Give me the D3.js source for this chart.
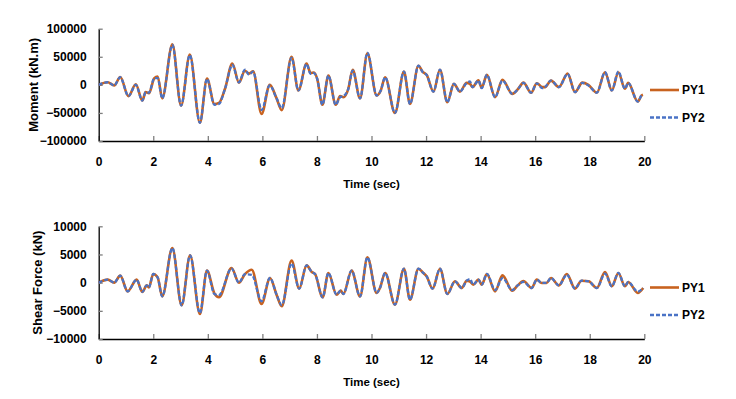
<!DOCTYPE html>
<html>
<head>
<meta charset="utf-8">
<script src="https://cdn.jsdelivr.net/npm/d3@7"></script>
<style>
  body { margin: 0; background: #fff; }
  svg { display: block; font-family: "Liberation Sans", Arial, sans-serif; font-weight: bold; }
</style>
</head>
<body>
<svg width="736" height="399"></svg>
<script>
// values, peaks and troughs of each trace

// moment chart
var momentTime = [0, 0.33, 0.57, 0.79, 1.09, 1.36, 1.60, 1.72, 1.84, 2.04,
  2.16, 2.33, 2.70, 3.02, 3.34, 3.71, 3.97, 4.24, 4.41, 4.63,
  4.90, 5.14, 5.36, 5.51, 5.66, 5.97, 6.27, 6.52, 6.71, 7.07,
  7.32, 7.62, 7.77, 7.89, 8.01, 8.20, 8.42, 8.69, 8.85, 8.97,
  9.15, 9.31, 9.58, 9.85, 10.19, 10.34, 10.50, 10.86, 11.19, 11.41,
  11.72, 11.88, 12.02, 12.27, 12.51, 12.78, 13.02, 13.24, 13.49, 13.61,
  13.70, 13.92, 14.04, 14.23, 14.53, 14.80, 15.16, 15.38, 15.57, 15.85,
  16.06, 16.26, 16.36, 16.58, 16.87, 17.19, 17.46, 17.73, 17.95, 18.26,
  18.56, 18.81, 19.05, 19.29, 19.41, 19.76, 19.90, 19.95];
var momentPY1 = [0, 4600, -1000, 14000, -20000, 1000, -28000, -13000, -15000, 12000,
  15000, -24000, 72000, -37000, 54000, -67500, 11000, -34000, -32000, -7000,
  38000, 4000, 25000, 20000, 24000, -52000, 0, -24000, -45000, 50000,
  -10000, 38000, 21000, 22000, 10600, -35500, 16500, -35500, -20000, -22000,
  -7000, 27000, -24000, 56000, -19000, -10000, 13500, -50000, 23600, -34000,
  34000, 23000, 17800, -12000, 27000, -31000, 1800, -12000, 3500, 2000,
  -4000, 8000, -5000, 17800, -22000, 9000, -16000, -7000, 4000, -14000,
  2800, -4000, -4000, 7600, -4000, 20000, -13000, 4000, 0, -14000,
  22400, -10000, 22000, -7000, 3500, -29700, -19000, -17800];
var momentPY2 = [0, 4600, -1000, 13500, -20000, 0, -28000, -13000, -14000, 12000,
  12000, -24000, 71000, -37000, 53000, -67500, 10600, -35500, -34000, -7000,
  35500, 4600, 27000, 18000, 23500, -45000, -1000, -24000, -41500, 48000,
  -10000, 37000, 19500, 21000, 10600, -35500, 16500, -35500, -22000, -20000,
  -7000, 25400, -24000, 57000, -19000, -10000, 13500, -50000, 23600, -34000,
  34000, 22400, 17800, -12000, 27000, -31000, 1800, -12000, 3500, 6000,
  -4000, 7600, -6000, 17800, -22000, 7600, -16000, -7000, 3500, -14000,
  2800, -6000, -4000, 7600, -4000, 19500, -13000, 3500, -1000, -14000,
  22400, -10000, 23600, -7000, 3500, -29700, -19000, -17800];

// shear force chart
var shearTime = [0, 0.33, 0.57, 0.79, 1.06, 1.39, 1.60, 1.76, 1.84, 2.00,
  2.16, 2.33, 2.70, 3.04, 3.35, 3.71, 3.97, 4.24, 4.41, 4.87,
  5.14, 5.36, 5.61, 5.97, 6.28, 6.52, 6.71, 7.07, 7.35, 7.62,
  7.81, 7.93, 8.21, 8.42, 8.72, 8.87, 8.97, 9.27, 9.58, 9.85,
  10.19, 10.31, 10.50, 10.86, 11.19, 11.41, 11.72, 11.90, 12.02, 12.24,
  12.51, 12.78, 13.06, 13.31, 13.49, 13.61, 13.73, 13.92, 14.04, 14.23,
  14.53, 14.80, 15.16, 15.36, 15.57, 15.87, 16.06, 16.24, 16.42, 16.58,
  16.87, 17.16, 17.46, 17.70, 17.96, 18.26, 18.56, 18.81, 19.05, 19.29,
  19.41, 19.76, 19.96];
var shearPY1 = [0, 530, 0, 1240, -1540, 530, -1650, -480, -830, 1540,
  940, -2430, 6150, -4020, 4850, -5560, 2130, -1900, -2600, 2600,
  0, 1500, 2300, -3780, 830, -2130, -4200, 3900, -1060, 3070,
  1890, 1540, -2600, 1710, -2130, -1420, -2010, 2130, -2430, 4490,
  -1830, -950, 1710, -3900, 2480, -3020, 2480, 1710, 1120, -1060,
  2480, -2010, 240, -950, 350, 200, -350, 530, -350, 1540,
  -1540, 1300, -1420, -480, 300, -950, 530, -50, -50, 830,
  -480, 1540, -1060, 350, 240, -950, 1890, -650, 1710, -650,
  120, -1830, -950];
var shearPY2 = [0, 530, 0, 1240, -1540, 530, -1650, -480, -830, 1540,
  940, -2430, 6150, -4020, 4850, -5400, 2130, -2010, -2200, 2500,
  0, 1500, 1400, -3300, 830, -2130, -4000, 3400, -1060, 3070,
  1890, 1540, -2600, 1710, -2130, -1420, -2010, 2130, -2430, 4490,
  -1830, -950, 1710, -3900, 2480, -3020, 2480, 1710, 1120, -1060,
  2480, -2010, 240, -950, 350, 650, -350, 530, -350, 1540,
  -1300, 800, -1300, -480, 120, -950, 530, -50, -50, 830,
  -480, 1400, -1060, 350, 240, -950, 1600, -650, 1710, -650,
  120, -1600, -950];

var xTicks = [0, 2, 4, 6, 8, 10, 12, 14, 16, 18, 20];
var momentTicks = [-100000, -50000, 0, 50000, 100000];
var shearTicks = [-10000, -5000, 0, 5000, 10000];
var seriesNames = ["PY1", "PY2"];

var colors = { PY1: "#C8621F", PY2: "#4A73C6" };
var widths = { PY1: 2.6, PY2: 2.3 };

var svg = d3.select("svg");

var x = d3.scaleLinear().domain([0, 20]).range([98.7, 644.3]);

function drawPanel(opts) {
  var y = d3.scaleLinear().domain([opts.ticks[0], opts.ticks[opts.ticks.length - 1]])
    .range([opts.bottom, opts.top]);

  var g = svg.append("g");

  // x axis, ticks point up into the plot
  var xG = g.append("g")
    .attr("transform", "translate(0," + opts.bottom + ")")
    .call(d3.axisBottom(x).tickValues(xTicks).tickSizeInner(-5).tickSizeOuter(0).tickPadding(16));

  // y axis, ticks point right into the plot
  var yG = g.append("g")
    .attr("transform", "translate(" + x(0) + ",0)")
    .call(d3.axisLeft(y).tickValues(opts.ticks).tickSizeInner(-4).tickSizeOuter(0).tickPadding(12)
      .tickFormat(d3.format("d")));

  [xG, yG].forEach(function(a) {
    a.select(".domain").attr("stroke", "#000").attr("stroke-width", 1.3);
    a.selectAll(".tick line").attr("stroke", "#7f7f7f").attr("stroke-width", 1.3);
    a.selectAll(".tick text")
      .attr("fill", "#000")
      .style("font-family", "'Liberation Sans', Arial, sans-serif")
      .style("font-weight", "bold")
      .style("font-size", "12px");
  });

  // axis titles
  g.append("text")
    .attr("x", (x(0) + x(20)) / 2)
    .attr("y", opts.bottom + 47)
    .attr("text-anchor", "middle")
    .style("font-size", "11.5px")
    .text("Time (sec)");

  g.append("text")
    .attr("transform", "translate(" + opts.titleX + "," + ((opts.top + opts.bottom) / 2) + ") rotate(-90)")
    .attr("text-anchor", "middle")
    .style("font-size", "13px")
    .text(opts.title);

  var line = d3.line()
    .x(d => x(d[0]))
    .y(d => y(d[1]))
    .curve(d3.curveMonotoneX);

  var series = [
    { name: "PY1", pts: d3.zip(opts.time, opts.py1) },
    { name: "PY2", pts: d3.zip(opts.time, opts.py2) }
  ];

  g.selectAll("path.trace").data(series).enter().append("path")
    .attr("class", "trace")
    .attr("d", d => line(d.pts))
    .attr("fill", "none")
    .attr("stroke", d => colors[d.name])
    .attr("stroke-width", d => widths[d.name])
    .attr("stroke-dasharray", d => d.name == "PY2" ? "4,2" : null)
    .attr("stroke-linejoin", "round");

  // legend
  var leg = g.selectAll("g.leg").data(seriesNames).enter().append("g")
    .attr("class", "leg")
    .attr("transform", (d, i) => "translate(650," + (opts.legendY + i * opts.legendGap) + ")");
  leg.append("line")
    .attr("x1", 0).attr("x2", 29)
    .attr("stroke", d => colors[d])
    .attr("stroke-width", d => widths[d])
    .attr("stroke-dasharray", d => d == "PY2" ? "4,2" : null);
  leg.append("text")
    .attr("x", 32)
    .attr("dy", "0.36em")
    .style("font-size", "12px")
    .text(d => d);
}

drawPanel({
  top: 28.7, bottom: 141, ticks: momentTicks,
  time: momentTime, py1: momentPY1, py2: momentPY2,
  title: "Moment (kN.m)", titleX: 38,
  legendY: 90, legendGap: 27.5
});

drawPanel({
  top: 226.3, bottom: 339, ticks: shearTicks,
  time: shearTime, py1: shearPY1, py2: shearPY2,
  title: "Shear Force (kN)", titleX: 42,
  legendY: 287.5, legendGap: 27.5
});
</script>
</body>
</html>
